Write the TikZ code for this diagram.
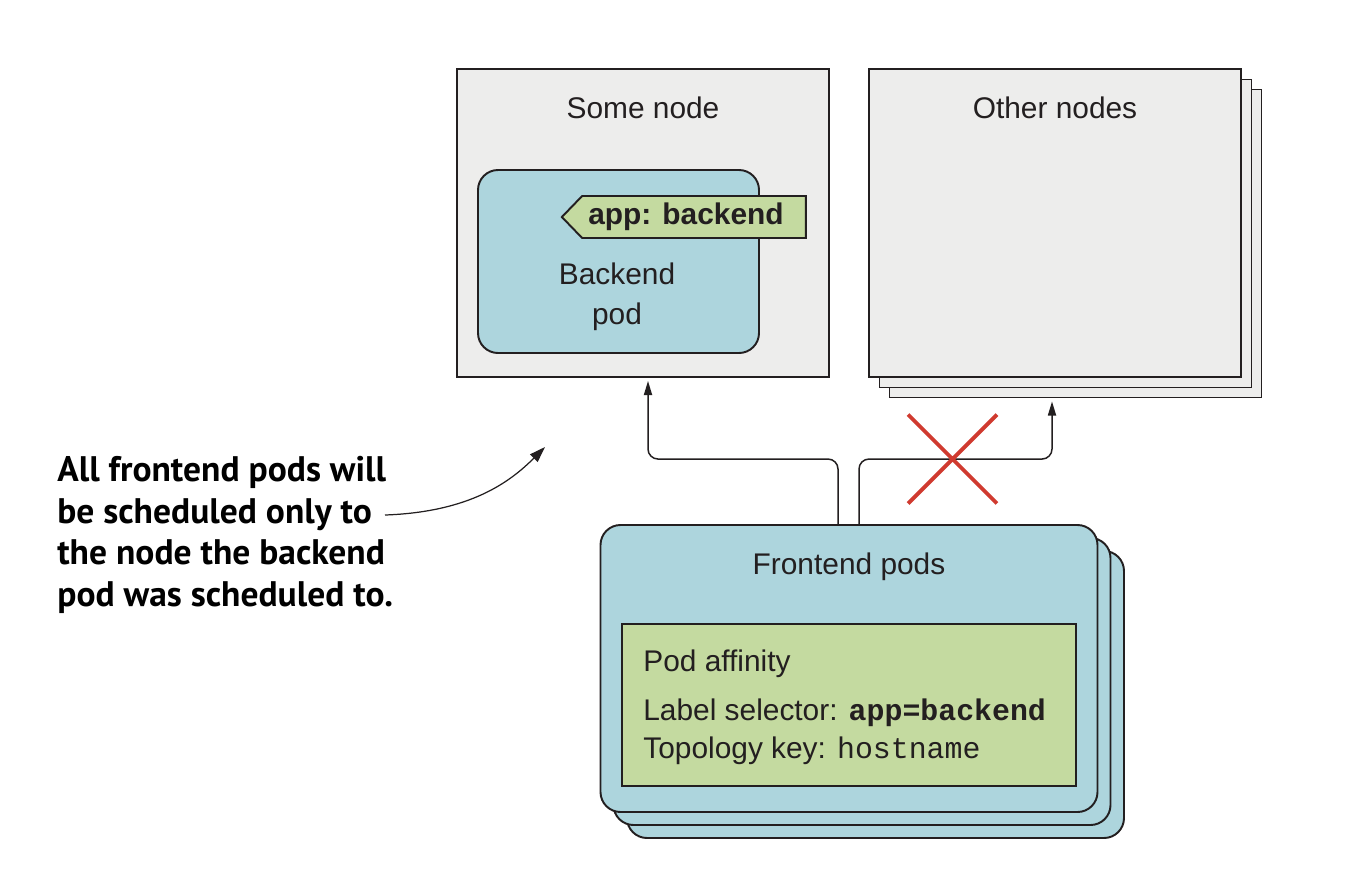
\documentclass[tikz,border=0pt]{standalone}
\usepackage{fontspec}
\setmainfont{Liberation Sans}
\setmonofont{Liberation Mono}
\newfontfamily\notefont{PT Sans}
\usetikzlibrary{arrows.meta,shapes.misc,shapes.symbols}
\definecolor{nodegray}{HTML}{EDEDEC}
\definecolor{podblue}{HTML}{ADD5DD}
\definecolor{tagreen}{HTML}{C4DAA0}
\definecolor{xred}{HTML}{D03A2F}
\definecolor{ink}{HTML}{231F20}
\tikzset{knode/.style={draw=ink,line width=1.1pt,fill=nodegray,inner sep=0,minimum width=74.4mm,minimum height=61.6mm}}
\tikzset{pod/.style={draw=ink,line width=1.1pt,fill=podblue,rounded corners=4mm,inner sep=0}}
\tikzset{rule/.style={draw=ink,line width=1.1pt,fill=tagreen,inner sep=0}}
\tikzset{txt/.style={text=ink,font=\fontsize{17}{22.8}\selectfont,inner sep=0}}
\tikzset{conn/.style={draw=ink,line width=0.85pt,rounded corners=2mm,-{Triangle[length=8pt,width=4.6pt]}}}

\begin{document}
\begin{tikzpicture}[x=0.2mm,y=-0.2mm]
    \useasboundingbox[fill=white] (0,0) rectangle (1360,874);

    \node[knode] (some)at (643,223) {};
    \node[pod,minimum width=56.2mm,minimum height=36.6mm] (bpod)at (618.5,261.5) {};
    \node[rule,signal,signal from=nowhere,signal to=west,signal pointer angle=92,minimum width=48.8mm,minimum height=8.4mm] (tag)at (694,217) {};
    \node[txt,font=\fontsize{17}{20}\selectfont\bfseries] (tagtext)at (686,217) {app: backend};
    \node[txt,align=center] (bname)at (617,297) {Backend\\pod};
    \node[txt,anchor=base] (sname)at (643,118) {Some node};

    \node[knode] (oth3)at (1075.5,243.5) {};
    \node[knode] (oth2)at (1065.5,233.5) {};
    \node[knode] (oth)at (1055,223) {};
    \node[txt,anchor=base] (oname)at (1055,118) {Other nodes};

    \node[pod,minimum width=99.4mm,minimum height=57.4mm] (front3)at (875.5,694.5) {};
    \node[pod,minimum width=99.4mm,minimum height=57.4mm] (front2)at (862,681.5) {};
    \node[pod,minimum width=99.4mm,minimum height=57.4mm] (front)at (849,668.5) {};
    \node[txt,anchor=base] (fname)at (849,574) {Frontend pods};
    \node[rule,minimum width=90.8mm,minimum height=32.4mm] (aff)at (849,705) {};
    \node[txt,anchor=base west] (aff1)at (643,671) {Pod affinity};
    \node[txt,anchor=base west] (aff2)at (643,720) {Label selector: \texttt{\bfseries app=backend}};
    \node[txt,anchor=base west] (aff3)at (643,758) {Topology key: \texttt{hostname}};

    \draw [conn] ([xshift=-2.2mm]front.north) -- ++(0,-65) -| ([xshift=1mm,yshift=-0.6mm]some.south);
    \draw [conn] ([xshift=2mm]front.north) -- ++(0,-65) -| ([xshift=-4.7mm,yshift=-0.6mm]oth3.south);
    \node[cross out,draw=xred,line width=2.2pt,minimum size=17mm,inner sep=0] (nox)at (952.5,459) {};

    \node[anchor=west,align=left,inner sep=0,text=black,font=\notefont\bfseries\fontsize{20.2}{23.8}\selectfont] (note)at (57,535) {All frontend pods will\\be scheduled only to\\the node the backend\\pod was scheduled to.};
    \coordinate (ns) at (385,515);
    \coordinate (ne) at (545,447);
    \draw [draw=ink,line width=0.7pt,-{Triangle[length=9pt,width=6pt]}] (ns) .. controls (470,512) and (510,482) .. (ne);
\end{tikzpicture}
\end{document}
